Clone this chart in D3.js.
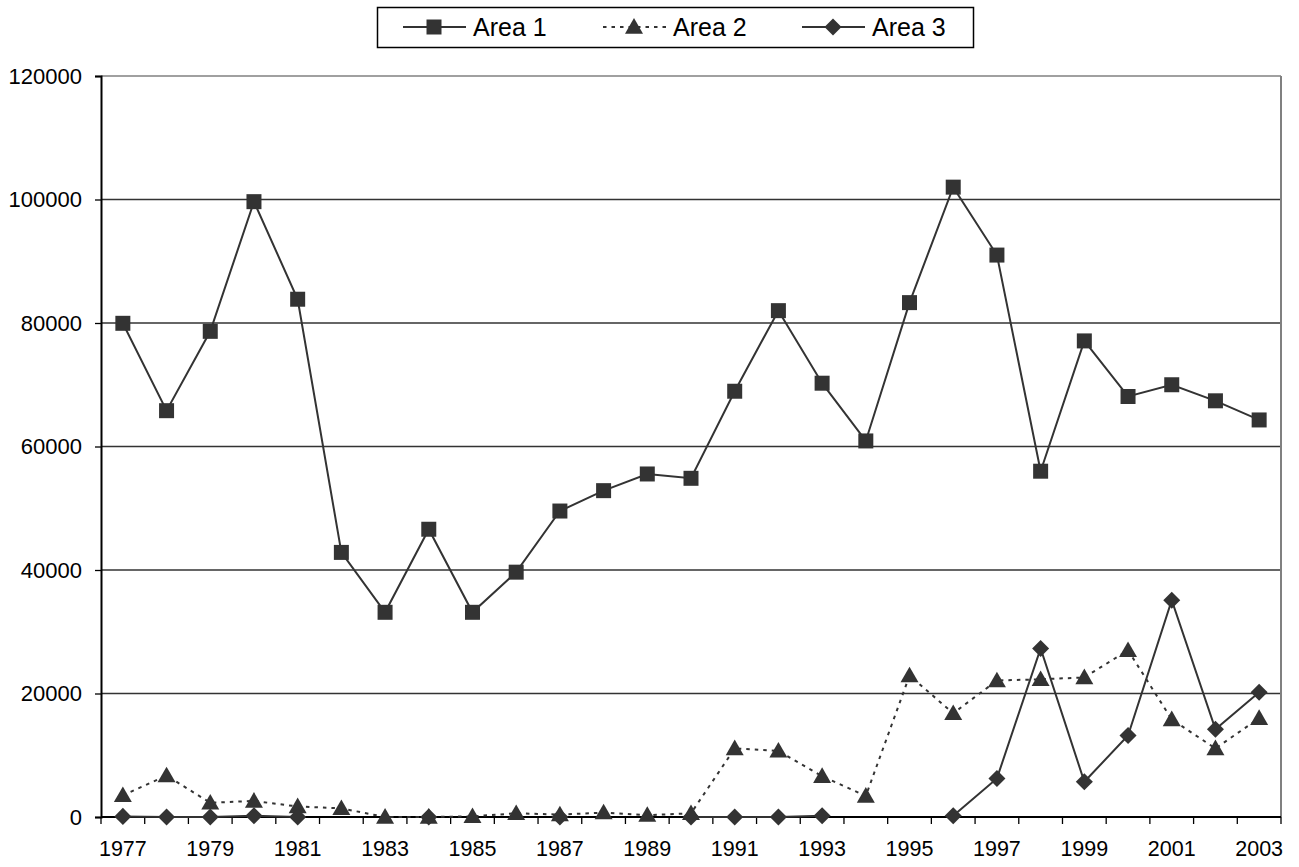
<!DOCTYPE html>
<html lang="en">
<head>
    <meta charset="UTF-8">
    <title>Area 1 / Area 2 / Area 3</title>
    <script src="https://cdn.jsdelivr.net/npm/d3@7"></script>
    <style>
        body{
            margin: 0;
            background-color: #fff;
        }
        svg text{
            font-family: "Liberation Sans", Arial, sans-serif;
            fill: #000;
        }
    </style>
</head>
<body>
<script>

    // Data
    const years = d3.range(1977, 2004);
    const area1 = [79950, 65800, 78650, 99650, 83850, 42850, 33150, 46600, 33150, 39650,
                   49550, 52850, 55550, 54850, 68950, 82000, 70250, 60900, 83300, 102000,
                   91000, 56000, 77100, 68100, 70000, 67400, 64300];
    const area2 = [3500, 6700, 2300, 2600, 1700, 1400, 0, 0, 100, 600,
                   400, 700, 300, 600, 11100, 10700, 6600, 3400, 22900, 16800,
                   22100, 22300, 22600, 27000, 15800, 11100, 16000];
    const area3 = [100, 0, 0, 200, 0, null, null, 0, null, null,
                   0, null, null, 0, 0, 0, 200, null, null, 200,
                   6250, 27300, 5700, 13200, 35100, 14200, 20200];
    const seriesNames = ["Area 1", "Area 2", "Area 3"];
    const yTicks = [0, 20000, 40000, 60000, 80000, 100000, 120000];

    const width = 1299;
    const height = 867;
    const margin = {left: 101, right: 18, top: 76, bottom: 50};
    const color = "#333333";

    const svg = d3.select("body")
        .append("svg")
        .attr("width", width)
        .attr("height", height);

    // Scales
    const x = d3.scaleBand()
        .domain(years)
        .range([margin.left, width - margin.right]);
    const cx = d => x(d) + x.bandwidth() / 2;

    const y = d3.scaleLinear()
        .domain([0, 120000])
        .range([height - margin.bottom, margin.top]);

    // Gridlines
    svg.append("g")
        .selectAll("line")
        .data(yTicks.slice(1))
        .enter()
        .append("line")
        .attr("x1", margin.left)
        .attr("x2", width - margin.right)
        .attr("y1", d => y(d))
        .attr("y2", d => y(d))
        .attr("stroke", d => d === 120000 ? "#808080" : "#333")
        .attr("stroke-width", 1.3);

    // right border of plot area
    svg.append("line")
        .attr("x1", width - margin.right)
        .attr("x2", width - margin.right)
        .attr("y1", margin.top)
        .attr("y2", height - margin.bottom)
        .attr("stroke", "#808080")
        .attr("stroke-width", 2);

    // Y axis
    const yAxis = svg.append("g")
        .attr("transform", `translate(${margin.left},0)`)
        .call(d3.axisLeft(y).tickValues(yTicks).tickSize(6).tickPadding(13).tickFormat(d3.format("d")));
    yAxis.select(".domain").attr("stroke", "#000").attr("stroke-width", 2);
    yAxis.selectAll(".tick line").attr("stroke", "#000").attr("stroke-width", 1.3);
    yAxis.selectAll(".tick text").style("font-size", "22px");

    // X axis: ticks between categories, labels on every second year
    const xAxis = svg.append("g")
        .attr("transform", `translate(0,${y(0)})`);
    xAxis.append("line")
        .attr("x1", margin.left)
        .attr("x2", width - margin.right)
        .attr("stroke", "#000")
        .attr("stroke-width", 2);
    xAxis.selectAll("line.tk")
        .data(years.concat([2004]))
        .enter()
        .append("line")
        .attr("class", "tk")
        .attr("x1", (d, i) => margin.left + i * x.step())
        .attr("x2", (d, i) => margin.left + i * x.step())
        .attr("y1", 0)
        .attr("y2", 7)
        .attr("stroke", "#000")
        .attr("stroke-width", 1.3);
    xAxis.selectAll("text")
        .data(years.filter((d, i) => i % 2 === 0))
        .enter()
        .append("text")
        .attr("x", d => cx(d))
        .attr("y", 39)
        .attr("text-anchor", "middle")
        .style("font-size", "21.5px")
        .text(d => d);

    // Marker shapes: square, triangle, diamond (square turned 45deg)
    const symbols = [d3.symbolSquare, d3.symbolTriangle, d3.symbolSquare];
    const symSizes = [225, 140, 145];
    const symRot = [0, 0, 45];
    const symDy = [0, 1.5, 0];
    const sym = i => d3.symbol().type(symbols[i]).size(symSizes[i]);

    const allSeries = [area1, area2, area3];
    const dashes = [null, "3.5,5", null];

    allSeries.forEach((vals, s) => {
        const pts = years.map((yr, i) => ({yr: yr, v: vals[i]}));
        const line = d3.line()
            .defined(d => d.v !== null)
            .x(d => cx(d.yr))
            .y(d => y(d.v));
        svg.append("path")
            .datum(pts)
            .attr("d", line)
            .attr("fill", "none")
            .attr("stroke", color)
            .attr("stroke-width", 2)
            .attr("stroke-dasharray", dashes[s]);
        svg.append("g")
            .selectAll("path")
            .data(pts.filter(d => d.v !== null))
            .enter()
            .append("path")
            .attr("d", sym(s))
            .attr("transform", d => `translate(${cx(d.yr)},${y(d.v) + symDy[s]}) rotate(${symRot[s]})`)
            .attr("fill", color);
    });

    // Legend
    const legend = svg.append("g");
    legend.append("rect")
        .attr("x", 377.5)
        .attr("y", 7.5)
        .attr("width", 596)
        .attr("height", 40)
        .attr("fill", "#fff")
        .attr("stroke", "#000")
        .attr("stroke-width", 1.5);

    const legX = [403, 603, 802];
    seriesNames.forEach((name, s) => {
        const g = legend.append("g").attr("transform", `translate(${legX[s]},27)`);
        g.append("line")
            .attr("x1", 0)
            .attr("x2", 63)
            .attr("stroke", color)
            .attr("stroke-width", 2)
            .attr("stroke-dasharray", dashes[s]);
        g.append("path")
            .attr("d", sym(s))
            .attr("transform", `translate(31,${symDy[s]}) rotate(${symRot[s]})`)
            .attr("fill", color);
        g.append("text")
            .attr("x", 70)
            .attr("y", 9)
            .style("font-size", "25px")
            .text(name);
    });

</script>
</body>
</html>
